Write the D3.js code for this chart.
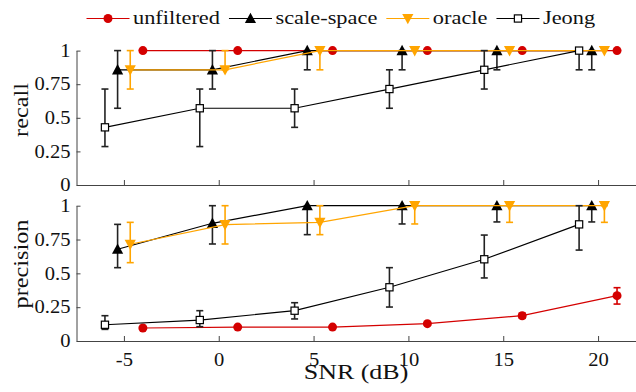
<!DOCTYPE html>
<html><head><meta charset="utf-8">
<script src="https://cdn.jsdelivr.net/npm/d3@7"></script>
<style>body{margin:0;background:#fff}svg{display:block}text{font-family:"Liberation Serif";fill:#111}</style>
</head><body><svg id="c" width="636" height="392"></svg>
<script>
// ---- data ----
const snr = [-5, 0, 5, 10, 15, 20];
const seriesNames = ["unfiltered", "scale-space", "oracle", "Jeong"];
const xTicks = [-5, 0, 5, 10, 15, 20];
const yTicks = [0, 0.25, 0.5, 0.75, 1];
const yTickLabels = ["0", "0.25", "0.5", "0.75", "1"];

// recall: value, lower, upper
const recallUnfiltered = [1, 1, 1, 1, 1, 1];
const recallUnfilteredLo = [1, 1, 1, 1, 1, 1];
const recallUnfilteredHi = [1, 1, 1, 1, 1, 1];
const recallScale = [0.857, 0.857, 1, 1, 1, 1];
const recallScaleLo = [0.571, 0.714, 0.857, 0.857, 0.857, 0.857];
const recallScaleHi = [1, 1, 1, 1, 1, 1];
const recallOracle = [0.857, 0.857, 1, 1, 1, 1];
const recallOracleLo = [0.714, 0.857, 0.857, 1, 1, 1];
const recallOracleHi = [1, 1, 1, 1, 1, 1];
const recallJeong = [0.429, 0.571, 0.571, 0.714, 0.857, 1];
const recallJeongLo = [0.286, 0.286, 0.429, 0.571, 0.714, 0.857];
const recallJeongHi = [0.714, 0.714, 0.714, 0.857, 1, 1];

// precision
const precUnfiltered = [0.096, 0.103, 0.103, 0.128, 0.187, 0.335];
const precUnfilteredLo = [0.096, 0.103, 0.103, 0.128, 0.168, 0.273];
const precUnfilteredHi = [0.096, 0.103, 0.103, 0.128, 0.205, 0.394];
const precScale = [0.678, 0.87, 1, 1, 1, 1];
const precScaleLo = [0.542, 0.717, 0.786, 0.865, 0.88, 0.88];
const precScaleHi = [0.862, 1, 1, 1, 1, 1];
const precOracle = [0.715, 0.86, 0.877, 1, 1, 1];
const precOracleLo = [0.579, 0.717, 0.786, 0.865, 0.877, 0.877];
const precOracleHi = [0.877, 1, 1, 1, 1, 1];
const precJeong = [0.12, 0.155, 0.224, 0.397, 0.604, 0.862];
const precJeongLo = [0.086, 0.106, 0.163, 0.251, 0.466, 0.672];
const precJeongHi = [0.187, 0.224, 0.283, 0.542, 0.783, 1];

// ---- styles ----
const offsets = [1, -1/3, 1/3, -1]; // dB shift per series
const colors = ["#d40000", "#000000", "#ffa500", "#000000"];
const barColors = ["#d40000", "#222222", "#ffa500", "#222222"];
const markers = ["circle", "up", "down", "square"];
const FONT = '"Liberation Serif"';

const svg = d3.select("#c");
const x = d3.scaleLinear().domain([-7.5, 22]).range([76.5, 636]);

function widthOf(str, size) {
  const t = svg.append("text").attr("font-size", size).style("font-family", FONT).text(str);
  const w = t.node().getComputedTextLength();
  t.remove();
  return w;
}
const TICK = 18, LEG = 19, XLAB = 22, YLAB = 20;
const sxTick = 36 / widthOf("0.75", TICK);
const sxLeg = 87 / widthOf("unfiltered", LEG);
const sxXlab = 104.7 / widthOf("SNR (dB)", XLAB);
const sxYlab = 89 / widthOf("precision", YLAB);

function stretch(sel, sx) {
  sel.each(function () {
    const t = d3.select(this);
    const tx = +t.attr("x") || 0, ty = +t.attr("y") || 0;
    t.attr("x", 0).attr("y", 0).attr("transform", `translate(${tx},${ty}) scale(${sx},1)`);
  });
}

function marker(g, type, cx, cy, color) {
  if (type === "circle") {
    g.append("circle").attr("cx", cx).attr("cy", cy).attr("r", 4.5).attr("fill", color);
  } else if (type === "up") {
    g.append("path").attr("d", `M${cx},${cy-5.8}L${cx+5.6},${cy+4.6}L${cx-5.6},${cy+4.6}Z`).attr("fill", color);
  } else if (type === "down") {
    g.append("path").attr("d", `M${cx},${cy+5.8}L${cx+5.6},${cy-4.6}L${cx-5.6},${cy-4.6}Z`).attr("fill", color);
  } else {
    g.append("rect").attr("x", cx-3.6).attr("y", cy-3.6).attr("width", 7.2).attr("height", 7.2)
      .attr("fill", "#fff").attr("stroke", "#000").attr("stroke-width", 1.2);
  }
}

function panel(y0, y1, series, label, labelY, showX) {
  const y = d3.scaleLinear().domain([0, 1]).range([y0, y1]);
  const g = svg.append("g");
  const ya = g.append("g").attr("transform", `translate(${x.range()[0]},0)`)
    .call(d3.axisLeft(y).tickValues(yTicks).tickFormat((d, i) => yTickLabels[i]).tickSize(-4).tickSizeOuter(0).tickPadding(6));
  const xa = g.append("g").attr("transform", `translate(0,${y0})`)
    .call(d3.axisBottom(x).tickValues(xTicks).tickFormat(d => showX ? String(d) : "").tickSize(-5).tickSizeOuter(0).tickPadding(12));
  [ya, xa].forEach(a => {
    a.style("font-family", FONT);
    a.selectAll("path,line").attr("stroke", "#444").attr("stroke-width", 1);
    a.selectAll("text").attr("font-size", TICK).style("font-family", FONT).attr("fill", "#111");
    stretch(a.selectAll("text"), sxTick);
  });
  g.append("text").attr("transform", `translate(28,${labelY}) rotate(-90) scale(${sxYlab},1)`)
    .attr("text-anchor", "middle").attr("font-size", YLAB).style("font-family", FONT).text(label);

  series.forEach((s, k) => {
    const pts = snr.map((d, i) => ({ x: x(d + offsets[k]), v: y(s.v[i]), lo: y(s.lo[i]), hi: y(s.hi[i]) }));
    const sg = g.append("g");
    sg.append("path").attr("d", d3.line().x(p => p.x).y(p => p.v)(pts))
      .attr("fill", "none").attr("stroke", colors[k]).attr("stroke-width", 1.2);
    pts.forEach(p => {
      if (Math.abs(p.hi - p.lo) > 0.5) {
        sg.append("line").attr("x1", p.x).attr("x2", p.x).attr("y1", p.lo).attr("y2", p.hi)
          .attr("stroke", barColors[k]).attr("stroke-width", 1.6);
        [p.lo, p.hi].forEach(yy => sg.append("line").attr("x1", p.x - 3.5).attr("x2", p.x + 3.5)
          .attr("y1", yy).attr("y2", yy).attr("stroke", barColors[k]).attr("stroke-width", 1.6));
      }
    });
    pts.forEach(p => marker(sg, markers[k], p.x, p.v, colors[k]));
  });
}

panel(185, 50.6, [
  { v: recallUnfiltered, lo: recallUnfilteredLo, hi: recallUnfilteredHi },
  { v: recallScale, lo: recallScaleLo, hi: recallScaleHi },
  { v: recallOracle, lo: recallOracleLo, hi: recallOracleHi },
  { v: recallJeong, lo: recallJeongLo, hi: recallJeongHi }
], "recall", 110, false);

panel(341, 205.7, [
  { v: precUnfiltered, lo: precUnfilteredLo, hi: precUnfilteredHi },
  { v: precScale, lo: precScaleLo, hi: precScaleHi },
  { v: precOracle, lo: precOracleLo, hi: precOracleHi },
  { v: precJeong, lo: precJeongLo, hi: precJeongHi }
], "precision", 264, true);

svg.append("text").attr("transform", `translate(356,379) scale(${sxXlab},1)`).attr("text-anchor", "middle")
  .attr("font-size", XLAB).style("font-family", FONT).text("SNR (dB)");

// legend
let lx = 86.5;
seriesNames.forEach((name, k) => {
  const lg = svg.append("g");
  lg.append("line").attr("x1", lx).attr("x2", lx + 43).attr("y1", 18.5).attr("y2", 18.5)
    .attr("stroke", colors[k]).attr("stroke-width", 1.2);
  marker(lg, markers[k], lx + 21.5, 18.5, colors[k]);
  const t = lg.append("text").attr("transform", `translate(${lx + 46.5},24) scale(${sxLeg},1)`)
    .attr("font-size", LEG).style("font-family", FONT).text(name);
  lx = lx + 46.5 + t.node().getComputedTextLength() * sxLeg + 9;
});
</script></body></html>
